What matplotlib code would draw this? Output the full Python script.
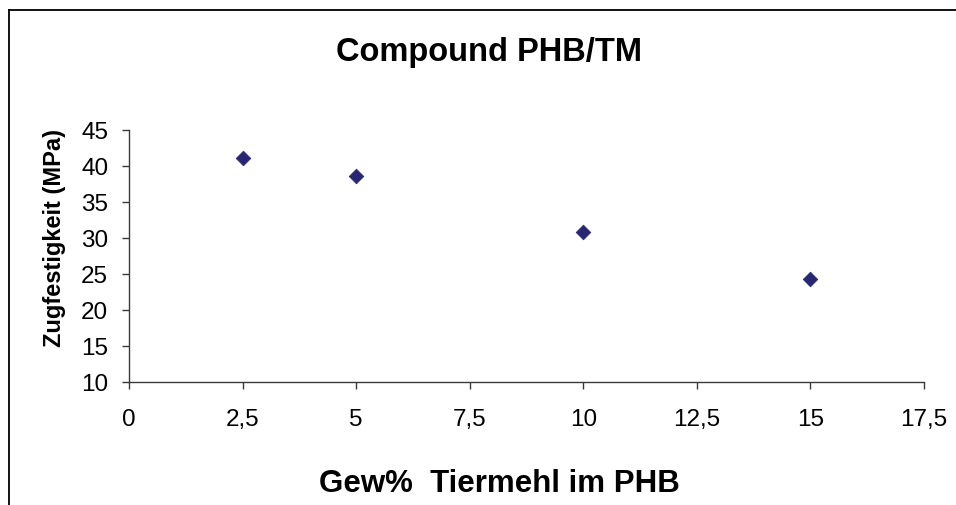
import matplotlib
matplotlib.use("Agg")
import matplotlib.pyplot as plt
from matplotlib.lines import Line2D
from matplotlib.ticker import FixedLocator, FuncFormatter

plt.rcParams['font.family'] = ['Liberation Sans', 'DejaVu Sans']

# Data
gew_prozent = [2.5, 5, 10, 15]
zugfestigkeit = [41.1, 38.6, 30.8, 24.2]
x_ticks = [0, 2.5, 5, 7.5, 10, 12.5, 15, 17.5]
y_ticks = [10, 15, 20, 25, 30, 35, 40, 45]

title = "Compound PHB/TM"
x_label = "Gew%  Tiermehl im PHB"
y_label = "Zugfestigkeit (MPa)"

W, H = 956, 506
fig = plt.figure(figsize=(W / 100, H / 100), dpi=100)
fig.patch.set_facecolor('white')

ax = fig.add_axes([129 / W, 1 - 382.7 / H, (924 - 129) / W, (382.7 - 130.7) / H])
ax.scatter(gew_prozent, zugfestigkeit, marker='D', s=56, color='#262673',
           edgecolors='#262673', linewidths=0.5, zorder=3, clip_on=False)

ax.set_xlim(0, 17.5)
ax.set_ylim(10, 45)
ax.xaxis.set_major_locator(FixedLocator(x_ticks))
ax.yaxis.set_major_locator(FixedLocator(y_ticks))

def de_fmt(v, pos):
    s = ('%g' % v)
    return s.replace('.', ',')

ax.xaxis.set_major_formatter(FuncFormatter(de_fmt))
ax.yaxis.set_major_formatter(FuncFormatter(de_fmt))

for sp in ['top', 'right']:
    ax.spines[sp].set_visible(False)
for sp in ['left', 'bottom']:
    ax.spines[sp].set_color('#3a3a3a')
    ax.spines[sp].set_linewidth(1.0)

ax.tick_params(axis='both', direction='out', length=5, width=1.0, color='#3a3a3a',
               labelsize=17.5, labelcolor='black')
ax.tick_params(axis='x', pad=14)
ax.tick_params(axis='y', pad=10)

fig.text(489 / W, 1 - 53 / H, title, ha='center', va='center',
         fontsize=23.5, fontweight='bold')
fig.text(499 / W, 1 - 484 / H, x_label, ha='center', va='center',
         fontsize=22.5, fontweight='bold')
fig.text(54 / W, 1 - 238 / H, y_label, ha='center', va='center',
         fontsize=17, fontweight='bold', rotation=90)

# Outer chart frame (left and top edges visible)
fig.add_artist(Line2D([8.5 / W, 8.5 / W], [0, 1 - 10.5 / H], color='black',
                      linewidth=1.3, transform=fig.transFigure))
fig.add_artist(Line2D([8.5 / W, 1], [1 - 10.5 / H, 1 - 10.5 / H], color='black',
                      linewidth=1.3, transform=fig.transFigure))

fig.savefig('out.png', dpi=100, facecolor='white')
